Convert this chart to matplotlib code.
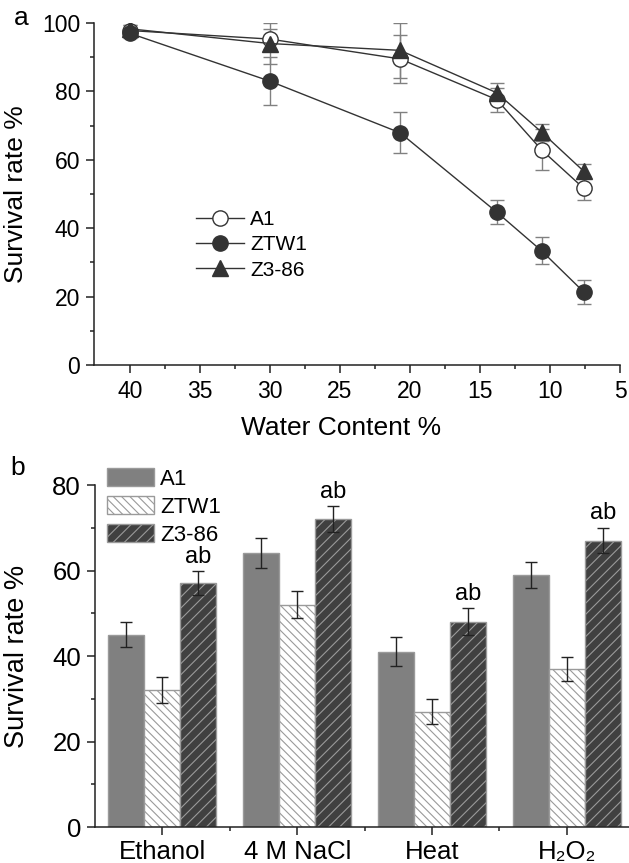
import numpy as np
import matplotlib.pyplot as plt

plt.rcParams['font.family'] = ['Liberation Sans', 'DejaVu Sans']
plt.rcParams['hatch.linewidth'] = 0.8

# panel a: survival vs water content
water = [40, 30, 20.7, 13.8, 10.6, 7.6]
a1 = [97.8, 95.3, 89.5, 77.6, 62.9, 51.7]
a1_err = [1.5, 3.0, 7.0, 3.5, 6.0, 3.5]
ztw1 = [97.0, 83.0, 67.9, 44.7, 33.4, 21.4]
ztw1_err = [1.5, 7.0, 6.0, 3.5, 4.0, 3.5]
z386 = [98.3, 94.0, 92.0, 79.6, 68.1, 56.7]
z386_err = [1.0, 6.0, 8.0, 3.0, 2.5, 2.0]

# panel b: stress tolerance
stress = ['Ethanol', '4 M NaCl', 'Heat', 'H\u2082O\u2082']
b_a1 = [45, 64, 41, 59]
b_a1_err = [3.0, 3.5, 3.4, 3.0]
b_ztw1 = [32, 52, 27, 37]
b_ztw1_err = [3.0, 3.2, 3.0, 2.8]
b_z386 = [57, 72, 48, 67]
b_z386_err = [2.8, 3.0, 3.2, 3.0]

W, H = 629, 863
fig = plt.figure(figsize=(W / 100, H / 100), dpi=100)

def style_axes(ax, size):
    for s in ['top', 'right']:
        ax.spines[s].set_visible(False)
    for s in ['left', 'bottom']:
        ax.spines[s].set_linewidth(1.1)
        ax.spines[s].set_color('#222222')
    ax.tick_params(which='major', length=6, width=1.1, color='#222222', labelsize=size)
    ax.tick_params(which='minor', length=3, width=1.1, color='#222222')

# ---- panel a ----
ax1 = fig.add_axes([94 / W, 1 - 365 / H, 526 / W, 342 / H])
line_c = '#333333'
err_c = '#808080'
ax1.errorbar(water, a1, yerr=a1_err, fmt='none', ecolor=err_c, elinewidth=1, capsize=5, zorder=1)
ax1.errorbar(water, ztw1, yerr=ztw1_err, fmt='none', ecolor=err_c, elinewidth=1, capsize=5, zorder=1)
ax1.errorbar(water, z386, yerr=z386_err, fmt='none', ecolor=err_c, elinewidth=1, capsize=5, zorder=1)
ax1.plot(water, a1, '-o', color=line_c, lw=1, ms=11, mfc='white', mec=line_c, mew=1, label='A1', zorder=3)
ax1.plot(water, ztw1, '-o', color=line_c, lw=1, ms=11, mfc=line_c, mec=line_c, label='ZTW1', zorder=3)
ax1.plot(water, z386, '-^', color=line_c, lw=1, ms=12, mfc=line_c, mec=line_c, label='Z3-86', zorder=3)
ax1.set_xlim(42.55, 5)
ax1.set_ylim(0, 100)
ax1.set_xticks([40, 35, 30, 25, 20, 15, 10, 5])
ax1.set_xticks([37.5, 32.5, 27.5, 22.5, 17.5, 12.5, 7.5], minor=True)
ax1.set_yticks([0, 20, 40, 60, 80, 100])
ax1.set_yticks([10, 30, 50, 70, 90], minor=True)
style_axes(ax1, 16.5)
ax1.tick_params(axis='x', pad=5)
ax1.tick_params(axis='y', pad=4)
ax1.set_xlabel('Water Content %', fontsize=19)
ax1.set_ylabel('Survival rate %', fontsize=19)
ax1.xaxis.set_label_coords(0.47, -0.15)
ax1.yaxis.set_label_coords(-0.125, 0.5)
ax1.legend(loc='center left', bbox_to_anchor=(196 / W, 1 - 245 / H), bbox_transform=fig.transFigure,
           frameon=False, fontsize=15, handlelength=2.3, handletextpad=0.3, labelspacing=0.3,
           borderpad=0, borderaxespad=0)
fig.text(21 / W, 1 - 18 / H, 'a', fontsize=19, ha='center', va='center')

# ---- panel b ----
ax2 = fig.add_axes([95 / W, 1 - 827 / H, 539.2 / W, 342 / H])
x = np.arange(len(stress))
bw = 0.267
edge = '#9a9a9a'
ax2.bar(x - bw, b_a1, bw, color='#808080', edgecolor=edge, lw=1, label='A1')
ax2.bar(x, b_ztw1, bw, color='white', edgecolor=edge, lw=1, hatch='\\\\\\\\', label='ZTW1')
ax2.bar(x + bw, b_z386, bw, color='#404040', edgecolor=edge, lw=1, hatch='///', label='Z3-86')
ax2.errorbar(x - bw, b_a1, yerr=b_a1_err, fmt='none', ecolor='#222222', elinewidth=1, capsize=4)
ax2.errorbar(x, b_ztw1, yerr=b_ztw1_err, fmt='none', ecolor='#222222', elinewidth=1, capsize=4)
ax2.errorbar(x + bw, b_z386, yerr=b_z386_err, fmt='none', ecolor='#222222', elinewidth=1, capsize=4)
for xi, v, e in zip(x, b_z386, b_z386_err):
    ax2.text(xi + bw, v + e + 3.4, 'ab', fontsize=17, ha='center', va='center', clip_on=False)
ax2.set_xlim(-0.5, 3.5)
ax2.set_ylim(0, 80)
ax2.set_xticks(x)
ax2.set_xticklabels(stress, fontsize=18)
ax2.set_xticks([0.5, 1.5, 2.5], minor=True)
ax2.set_yticks([0, 20, 40, 60, 80])
ax2.set_yticks([10, 30, 50, 70], minor=True)
style_axes(ax2, 18.5)
ax2.tick_params(axis='x', pad=3)
ax2.tick_params(axis='y', pad=4)
ax2.set_ylabel('Survival rate %', fontsize=19.5)
ax2.yaxis.set_label_coords(-0.12, 0.5)
ax2.legend(loc='center left', bbox_to_anchor=(107 / W, 1 - 507 / H), bbox_transform=fig.transFigure,
           frameon=False, fontsize=16, handlelength=2.1, handleheight=0.85, handletextpad=0.3,
           labelspacing=0.3, borderpad=0, borderaxespad=0)
fig.text(18 / W, 1 - 468 / H, 'b', fontsize=19, ha='center', va='center')

fig.savefig('out.png', dpi=100)
